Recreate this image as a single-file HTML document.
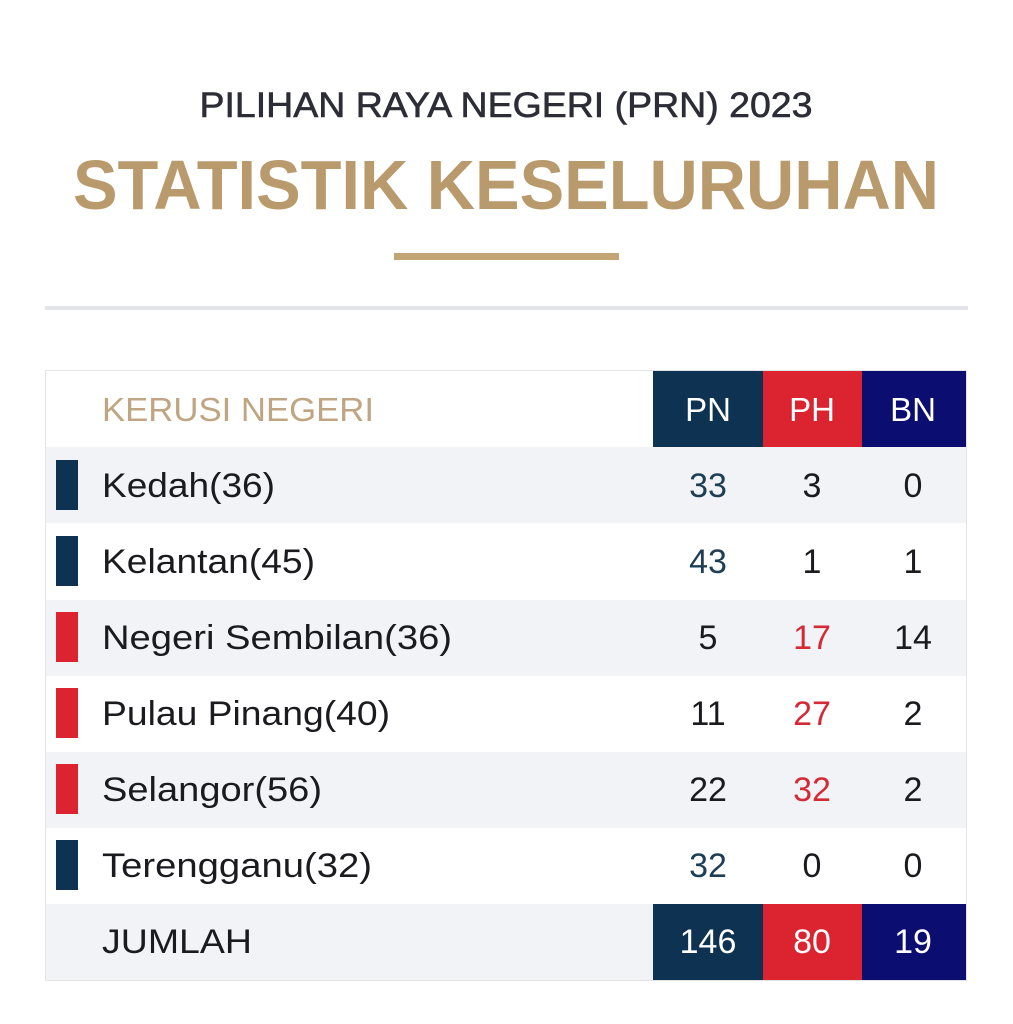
<!DOCTYPE html>
<html><head><meta charset="utf-8"><style>
html,body{margin:0;padding:0;background:#fff;}
svg{display:block;}
text{font-family:"Liberation Sans",sans-serif;}
</style></head><body>
<svg width="1013" height="1024" viewBox="0 0 1013 1024" xmlns="http://www.w3.org/2000/svg">
<rect width="1013" height="1024" fill="#fff"/>
<text x="506" y="117" text-anchor="middle" font-size="35" fill="#2c2d36" stroke="#2c2d36" stroke-width="0.6" textLength="613" lengthAdjust="spacingAndGlyphs">PILIHAN RAYA NEGERI (PRN) 2023</text>
<text x="506" y="209" text-anchor="middle" font-size="70" font-weight="bold" fill="#b99a6c" textLength="866" lengthAdjust="spacingAndGlyphs">STATISTIK KESELURUHAN</text>
<rect x="394" y="253" width="225" height="7" fill="#c2a475"/>
<rect x="45" y="306" width="923" height="4" fill="#e3e5ea"/>
<rect x="45.5" y="370.5" width="921" height="610" fill="#fff" stroke="#e2e4e8"/>
<rect x="46" y="447" width="920" height="76" fill="#f1f3f6"/>
<rect x="46" y="600" width="920" height="76" fill="#f1f3f6"/>
<rect x="46" y="752" width="920" height="76" fill="#f1f3f6"/>
<rect x="46" y="904" width="920" height="76" fill="#f1f3f6"/>
<text x="102" y="421" font-size="33" fill="#bfa582" textLength="272" lengthAdjust="spacingAndGlyphs">KERUSI NEGERI</text>
<rect x="653" y="371" width="110" height="76" fill="#0e3352"/>
<rect x="763" y="371" width="99" height="76" fill="#dc2430"/>
<rect x="862" y="371" width="104" height="76" fill="#0c0d70"/>
<g font-size="33" fill="#fff" text-anchor="middle">
<text x="708" y="421">PN</text><text x="812" y="421">PH</text><text x="913" y="421">BN</text>
</g>
<g>
<rect x="56" y="460" width="22" height="50" fill="#0e3352"/>
<rect x="56" y="536" width="22" height="50" fill="#0e3352"/>
<rect x="56" y="612" width="22" height="50" fill="#dc2430"/>
<rect x="56" y="688" width="22" height="50" fill="#dc2430"/>
<rect x="56" y="764" width="22" height="50" fill="#dc2430"/>
<rect x="56" y="840" width="22" height="50" fill="#0e3352"/>
</g>
<g font-size="34" fill="#1a1a1f" lengthAdjust="spacingAndGlyphs">
<text x="102" y="497" textLength="173" lengthAdjust="spacingAndGlyphs">Kedah(36)</text>
<text x="102" y="573" textLength="213" lengthAdjust="spacingAndGlyphs">Kelantan(45)</text>
<text x="102" y="649" textLength="350" lengthAdjust="spacingAndGlyphs">Negeri Sembilan(36)</text>
<text x="102" y="725" textLength="288" lengthAdjust="spacingAndGlyphs">Pulau Pinang(40)</text>
<text x="102" y="801" textLength="220" lengthAdjust="spacingAndGlyphs">Selangor(56)</text>
<text x="102" y="877" textLength="270" lengthAdjust="spacingAndGlyphs">Terengganu(32)</text>
<text x="102" y="953" textLength="150" lengthAdjust="spacingAndGlyphs">JUMLAH</text>
</g>
<g font-size="34" text-anchor="middle" fill="#1a1a1f">
<text x="708" y="497" fill="#1d3e55">33</text><text x="812" y="497">3</text><text x="913" y="497">0</text>
<text x="708" y="573" fill="#1d3e55">43</text><text x="812" y="573">1</text><text x="913" y="573">1</text>
<text x="708" y="649">5</text><text x="812" y="649" fill="#d42a35">17</text><text x="913" y="649">14</text>
<text x="708" y="725">11</text><text x="812" y="725" fill="#d42a35">27</text><text x="913" y="725">2</text>
<text x="708" y="801">22</text><text x="812" y="801" fill="#d42a35">32</text><text x="913" y="801">2</text>
<text x="708" y="877" fill="#1d3e55">32</text><text x="812" y="877">0</text><text x="913" y="877">0</text>
</g>
<rect x="653" y="904" width="110" height="76" fill="#0e3352"/>
<rect x="763" y="904" width="99" height="76" fill="#dc2430"/>
<rect x="862" y="904" width="104" height="76" fill="#0c0d70"/>
<g font-size="34" fill="#fff" text-anchor="middle">
<text x="708" y="953">146</text><text x="812" y="953">80</text><text x="913" y="953">19</text>
</g>
</svg>
</body></html>
